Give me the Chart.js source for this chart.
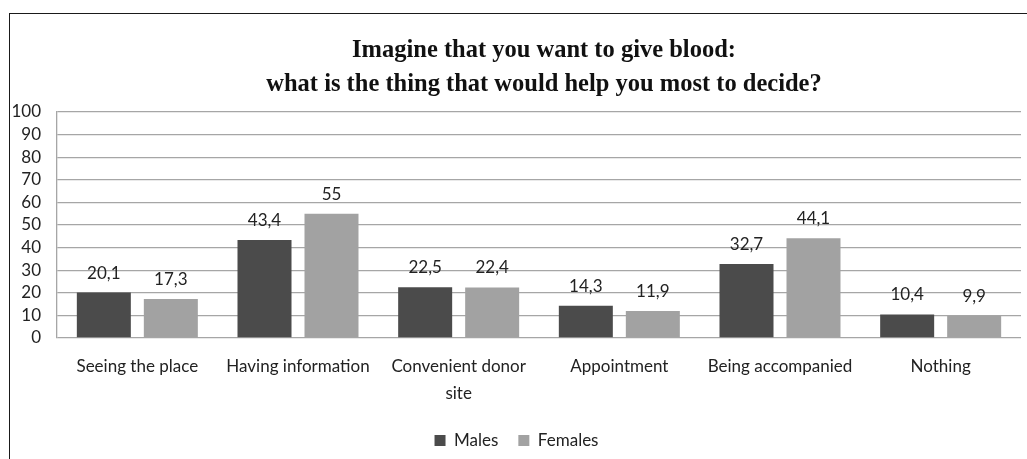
<!DOCTYPE html>
<html>
<head>
<meta charset="utf-8">
<script src="https://cdn.jsdelivr.net/npm/chart.js@4/dist/chart.umd.min.js"></script>
<style>
  html, body { margin: 0; padding: 0; background: #fff; }
  #wrap { position: relative; width: 1027px; height: 459px; overflow: hidden; }
  #frame { position: absolute; left: 9px; top: 13px; width: 1100px; height: 500px;
           border-left: 1.5px solid #1a1a1a; border-top: 1.5px solid #1a1a1a; }
  canvas { position: absolute; left: 0; top: 0; }
</style>
</head>
<body>
<div id="wrap">
  <div id="frame"></div>
  <canvas id="bloodChart" width="1027" height="459"></canvas>
</div>
<script>
var titleLines = ['Imagine that you want to give blood:', 'what is the thing that would help you most to decide?'];
var categories = ['Seeing the place', 'Having information', ['Convenient donor', 'site'], 'Appointment', 'Being accompanied', 'Nothing'];
var males = [20.1, 43.4, 22.5, 14.3, 32.7, 10.4];
var females = [17.3, 55, 22.4, 11.9, 44.1, 9.9];
var yTicks = { min: 0, max: 100, step: 10 };

// two-line bold title, slightly right of the plot centre
var titlePlugin = {
  id: 'plotTitle',
  afterDraw: function(chart) {
    var ctx = chart.ctx, area = chart.chartArea;
    var cx = (area.left + area.right) / 2 + 5;
    ctx.save();
    ctx.fillStyle = '#111';
    ctx.font = 'bold 24.5px "Liberation Serif", "Times New Roman", serif';
    ctx.textAlign = 'center';
    ctx.textBaseline = 'middle';
    ctx.fillText(titleLines[0], cx, 51);
    ctx.fillText(titleLines[1], cx, 85);
    ctx.restore();
  }
};

// value above each bar, comma decimal
var valuePlugin = {
  id: 'barValues',
  afterDatasetsDraw: function(chart) {
    var ctx = chart.ctx;
    ctx.save();
    ctx.fillStyle = '#222';
    ctx.font = '17px Lato, sans-serif';
    ctx.textAlign = 'center';
    ctx.textBaseline = 'bottom';
    chart.data.datasets.forEach(function(ds, i) {
      chart.getDatasetMeta(i).data.forEach(function(bar, j) {
        var txt = String(ds.data[j]).replace('.', ',');
        ctx.fillText(txt, bar.x, bar.y - 11);
      });
    });
    ctx.restore();
  }
};

var ctx = document.getElementById('bloodChart').getContext('2d');
var chart = new Chart(ctx, {
  type: 'bar',
  data: {
    labels: categories,
    datasets: [
      { label: 'Males', data: males, backgroundColor: '#4b4b4b',
        categoryPercentage: 0.834, barPercentage: 0.806 },
      { label: 'Females', data: females, backgroundColor: '#a2a2a2',
        categoryPercentage: 0.834, barPercentage: 0.806 }
    ]
  },
  options: {
    responsive: false,
    animation: false,
    devicePixelRatio: 1,
    layout: { padding: { top: 112, left: 12, right: 6, bottom: 0 } },
    plugins: {
      title: { display: false },
      tooltip: { enabled: false },
      legend: {
        display: true, position: 'bottom',
        labels: { boxWidth: 11, boxHeight: 11, padding: 20, color: '#222',
                  font: { family: 'Lato', size: 17 } }
      }
    },
    scales: {
      x: {
        grid: { display: false, drawTicks: false },
        border: { display: false },
        ticks: { color: '#222', padding: 15, maxRotation: 0, autoSkip: false,
                 font: { family: 'Lato', size: 17, lineHeight: 1.6 } },
        afterFit: function(scale) { scale.height = 74; }
      },
      y: {
        min: yTicks.min, max: yTicks.max,
        grid: { color: '#a6a6a6', lineWidth: 1.3, drawTicks: false },
        border: { display: true, color: '#a6a6a6', width: 1.3 },
        ticks: { stepSize: yTicks.step, color: '#222', padding: 16, autoSkip: false,
                 font: { family: 'Lato', size: 17 } },
        afterFit: function(scale) { scale.width = 45; }
      }
    }
  },
  plugins: [titlePlugin, valuePlugin]
});
</script>
</body>
</html>
